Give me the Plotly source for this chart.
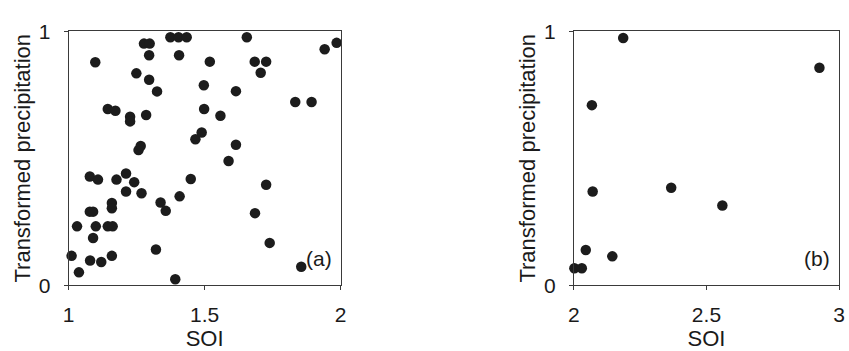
import plotly.graph_objects as go

# Panel (a)
soi_a = [1.011, 1.038, 1.031, 1.098, 1.078, 1.108, 1.078, 1.090, 1.090, 1.100,
         1.079, 1.120, 1.144, 1.162, 1.159, 1.159, 1.159, 1.144, 1.172, 1.176,
         1.211, 1.211, 1.241, 1.226, 1.226, 1.249, 1.268, 1.257, 1.265, 1.285,
         1.277, 1.298, 1.296, 1.296, 1.325, 1.321, 1.338, 1.357, 1.374, 1.404,
         1.434, 1.406, 1.408, 1.392, 1.449, 1.466, 1.489, 1.497, 1.498, 1.519,
         1.558, 1.588, 1.615, 1.615, 1.655, 1.684, 1.726, 1.706, 1.685, 1.726,
         1.739, 1.833, 1.893, 1.855, 1.941, 1.985]
prec_a = [0.116, 0.051, 0.232, 0.878, 0.428, 0.416, 0.290, 0.290, 0.186, 0.232,
          0.098, 0.092, 0.232, 0.232, 0.324, 0.303, 0.116, 0.694, 0.687, 0.416,
          0.440, 0.369, 0.406, 0.663, 0.645, 0.834, 0.362, 0.532, 0.548, 0.670,
          0.951, 0.951, 0.905, 0.809, 0.763, 0.141, 0.326, 0.293, 0.976, 0.976,
          0.976, 0.905, 0.350, 0.024, 0.418, 0.575, 0.601, 0.787, 0.694, 0.880,
          0.667, 0.489, 0.553, 0.764, 0.976, 0.880, 0.880, 0.836, 0.284, 0.396,
          0.167, 0.721, 0.721, 0.073, 0.929, 0.954]

# Panel (b)
soi_b = [2.002, 2.030, 2.045, 2.068, 2.071, 2.145, 2.186, 2.367, 2.560, 2.926]
prec_b = [0.067, 0.067, 0.139, 0.709, 0.369, 0.114, 0.973, 0.384, 0.314, 0.856]

xticks_a = [1, 1.5, 2]
xticklabels_a = ["1", "1.5", "2"]
xticks_b = [2, 2.5, 3]
xticklabels_b = ["2", "2.5", "3"]
yticks = [0, 1]
yticklabels = ["0", "1"]

W, H = 849, 351
FONT = "Liberation Sans, Arial, sans-serif"
DOT = "#1c1c1c"
LINE = "#3a3a3a"
TXT = "#1a1a1a"

fig = go.Figure()
fig.add_trace(go.Scatter(x=soi_a, y=prec_a, mode="markers", xaxis="x", yaxis="y",
                         marker=dict(size=10.5, color=DOT), cliponaxis=False,
                         showlegend=False))
fig.add_trace(go.Scatter(x=soi_b, y=prec_b, mode="markers", xaxis="x2", yaxis="y2",
                         marker=dict(size=10.5, color=DOT), cliponaxis=False,
                         showlegend=False))

ytop = 1 - 20.5 / H
ybot = 1 - 292.5 / H

axis_common = dict(showline=True, linecolor=LINE, linewidth=1, mirror=True,
                   ticks="outside", ticklen=4, tickcolor=LINE, showgrid=False,
                   zeroline=False, tickfont=dict(family=FONT, size=21, color=TXT))

fig.update_layout(
    width=W, height=H,
    margin=dict(l=0, r=0, t=0, b=0),
    paper_bgcolor="white", plot_bgcolor="white",
    font=dict(family=FONT, color=TXT),
    xaxis=dict(domain=[63.5 / W, 339.5 / W], range=[1, 2], tickvals=xticks_a,
               ticktext=xticklabels_a, anchor="y",
               title=dict(text="SOI", font=dict(family=FONT, size=22), standoff=10),
               ticklabelstandoff=6, **axis_common),
    yaxis=dict(domain=[ybot, ytop], range=[0, 1], tickvals=yticks,
               ticktext=yticklabels, anchor="x",
               title=dict(text="Transformed precipitation", font=dict(family=FONT, size=22), standoff=2),
               ticklabelstandoff=9, **axis_common),
    xaxis2=dict(domain=[576 / W, 845 / W], range=[2, 3], tickvals=xticks_b,
                ticktext=xticklabels_b, anchor="y2",
                title=dict(text="SOI", font=dict(family=FONT, size=22), standoff=10),
                ticklabelstandoff=6, **axis_common),
    yaxis2=dict(domain=[ybot, ytop], range=[0, 1], tickvals=yticks,
                ticktext=yticklabels, anchor="x2",
                title=dict(text="Transformed precipitation", font=dict(family=FONT, size=22), standoff=2),
                ticklabelstandoff=9, **axis_common),
    annotations=[
        dict(text="(a)", xref="x domain", yref="y domain", x=0.975, y=0.105,
             xanchor="right", yanchor="middle", showarrow=False,
             font=dict(family=FONT, size=21, color=TXT)),
        dict(text="(b)", xref="x2 domain", yref="y2 domain", x=0.975, y=0.105,
             xanchor="right", yanchor="middle", showarrow=False,
             font=dict(family=FONT, size=21, color=TXT)),
    ],
)

fig.write_html("out.html")
